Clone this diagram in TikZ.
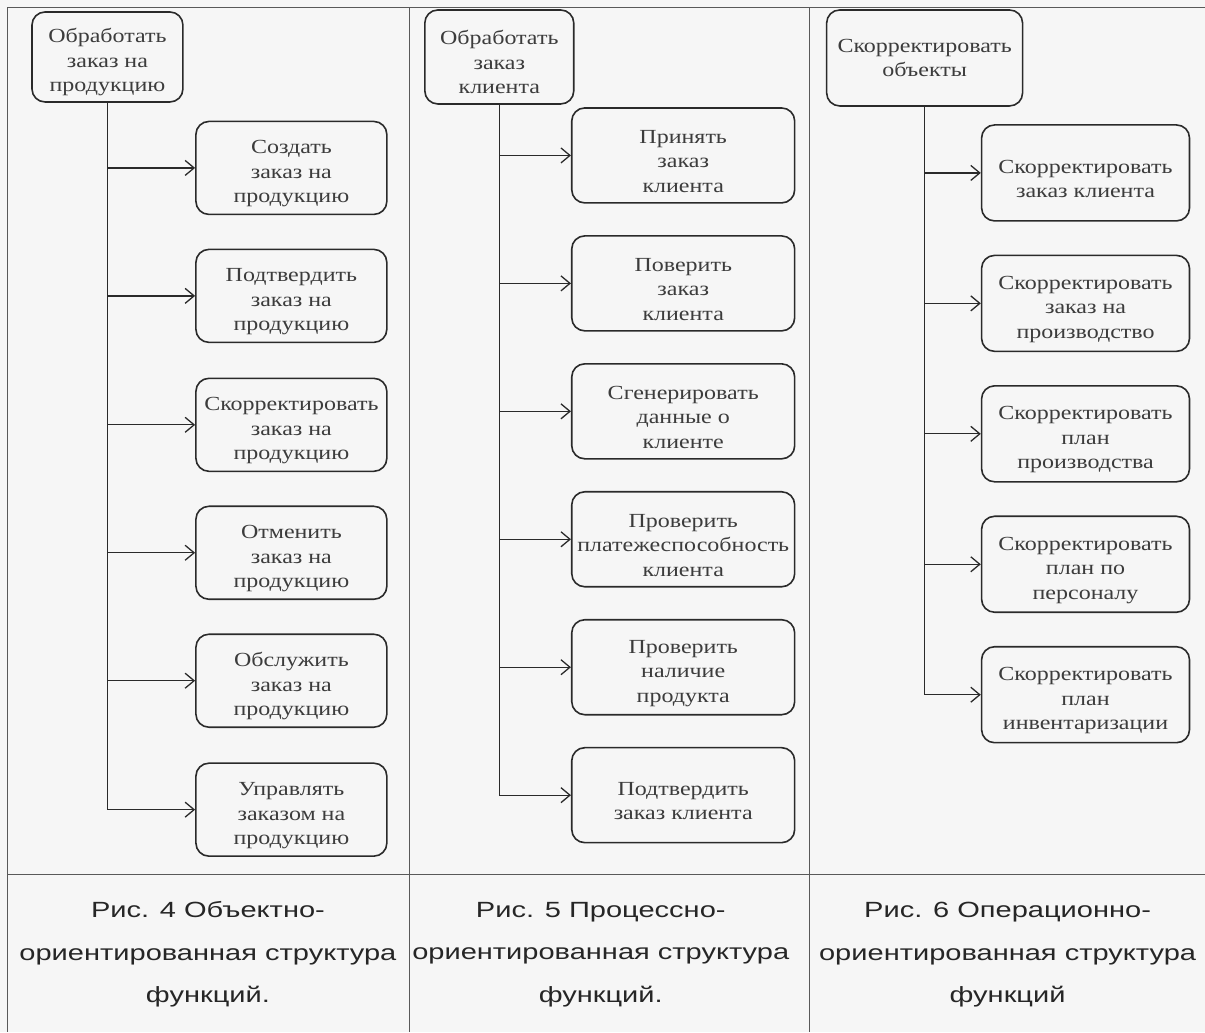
\documentclass[tikz,border=0pt]{standalone}
\usepackage{fontspec}
\usetikzlibrary{arrows.meta}
\newfontfamily\boxfont[FakeStretch=1.2]{Liberation Serif}
\newfontfamily\capfont[FakeStretch=1.32]{Liberation Sans}
\definecolor{paper}{HTML}{F6F6F6}
\definecolor{ink}{HTML}{2A2A2A}
\definecolor{textink}{HTML}{3C3C3C}
% a taller first line pushes the text block a little lower in its box
\newcommand\liftline{\rule{0pt}{25pt}}

\begin{document}
\begin{tikzpicture}[x=1pt,y=-1pt,
  fnbox/.style={draw=ink, line width=1.6pt, rounded corners=13pt, inner sep=0pt,
    align=center, text=textink, font=\boxfont\fontsize{20}{24.5}\selectfont},
  rootA/.style={fnbox, minimum width=151pt, minimum height=90pt},
  rootB/.style={fnbox, minimum width=149pt, minimum height=94pt},
  rootC/.style={fnbox, minimum width=196pt, minimum height=96pt},
  boxA/.style={fnbox, minimum width=191pt, minimum height=93pt},
  boxB/.style={fnbox, minimum width=223pt, minimum height=95pt},
  boxC/.style={fnbox, minimum width=208pt, minimum height=96pt},
  link/.style={draw=ink, line width=1.3pt},
  arrowlink/.style={link, -{Straight Barb[length=9pt,width=15pt,line width=1.3pt]}},
  rule/.style={draw=black!65, line width=1pt},
  caption/.style={align=center, text=black!85, font=\capfont\fontsize{22}{42.5}\selectfont}]

% paper and table rules
\fill[paper] (0,0) rectangle (1205,1032);
\draw[rule] (8,1032) -- (8,8) -- (1205,8);
\draw[rule] (410,8) -- (410,1032);
\draw[rule] (810,8) -- (810,1032);
\draw[rule] (8,875) -- (1205,875);

% ---- column 1: object-oriented structure
\node[rootA] (r1) at (107.5,57) {\liftline Обработать\\заказ на\\продукцию};
\node[boxA] (a1) at (291.5,168) {\liftline Создать\\заказ на\\продукцию};
\node[boxA] (a2) at (291.5,296) {\liftline Подтвердить\\заказ на\\продукцию};
\node[boxA] (a3) at (291.5,425) {\liftline Скорректировать\\заказ на\\продукцию};
\node[boxA] (a4) at (291.5,553) {\liftline Отменить\\заказ на\\продукцию};
\node[boxA] (a5) at (291.5,681) {\liftline Обслужить\\заказ на\\продукцию};
\node[boxA] (a6) at (291.5,810) {\liftline Управлять\\заказом на\\продукцию};

\draw[arrowlink] (r1.south) |- (a6.west);
\foreach \k in {1,...,5} \draw[arrowlink] (r1.south |- a\k.west) -- (a\k.west);

% ---- column 2: process-oriented structure
\node[rootB] (r2) at (499.5,57) {\liftline Обработать\\заказ\\клиента};
\node[boxB] (b1) at (683.5,155.5) {\liftline Принять\\заказ\\клиента};
\node[boxB] (b2) at (683.5,283.5) {\liftline Поверить\\заказ\\клиента};
\node[boxB] (b3) at (683.5,411.5) {\liftline Сгенерировать\\данные о\\клиенте};
\node[boxB] (b4) at (683.5,539.5) {\liftline Проверить\\платежеспособность\\клиента};
\node[boxB] (b5) at (683.5,667.5) {\liftline Проверить\\наличие\\продукта};
\node[boxB] (b6) at (683.5,795.5) {\liftline Подтвердить\\заказ клиента};

\draw[arrowlink] (r2.south) |- (b6.west);
\foreach \k in {1,...,5} \draw[arrowlink] (r2.south |- b\k.west) -- (b\k.west);

% ---- column 3: operation-oriented structure
\node[rootC] (r3) at (925,58) {Скорректировать\\объекты};
\node[boxC] (c1) at (1086,173) {\liftline Скорректировать\\заказ клиента};
\node[boxC] (c2) at (1086,303.5) {\liftline Скорректировать\\заказ на\\производство};
\node[boxC] (c3) at (1086,434) {\liftline Скорректировать\\план\\производства};
\node[boxC] (c4) at (1086,564.5) {\liftline Скорректировать\\план по\\персоналу};
\node[boxC] (c5) at (1086,695) {\liftline Скорректировать\\план\\инвентаризации};

\draw[arrowlink] (r3.south) |- (c5.west);
\foreach \k in {1,...,4} \draw[arrowlink] (r3.south |- c\k.west) -- (c\k.west);

% ---- captions
\node[caption] (cap1) at (208,955) {Рис. 4 Объектно-\\ориентированная структура\\функций.};
\node[caption] (cap2) at (601,955) {Рис. 5 Процессно-\\ориентированная структура\\функций.};
\node[caption] (cap3) at (1008,955) {Рис. 6 Операционно-\\ориентированная структура\\функций};

\end{tikzpicture}
\end{document}
